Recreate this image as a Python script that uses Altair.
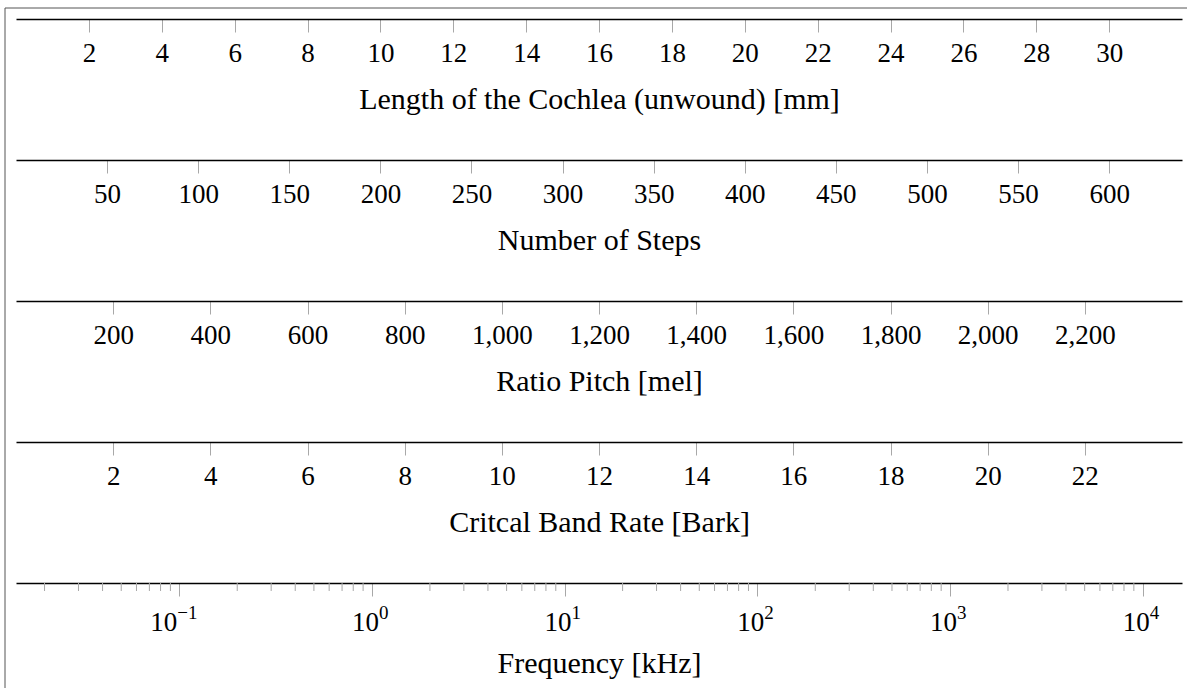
import altair as alt
import pandas as pd

# Tick values and ranges of the five auditory scales
cochlea_ticks = [2, 4, 6, 8, 10, 12, 14, 16, 18, 20, 22, 24, 26, 28, 30]
cochlea_range = [0, 32]

steps_ticks = [50, 100, 150, 200, 250, 300, 350, 400, 450, 500, 550, 600]
steps_range = [0, 640]

mel_ticks = [200, 400, 600, 800, 1000, 1200, 1400, 1600, 1800, 2000, 2200]
mel_range = [0, 2400]

bark_ticks = [2, 4, 6, 8, 10, 12, 14, 16, 18, 20, 22]
bark_range = [0, 24]

freq_ticks = [0.1, 1, 10, 100, 1000, 10000]
freq_exponents = ["\u22121", "0", "1", "2", "3", "4"]
freq_minor_ticks = [
    0.02, 0.03, 0.04, 0.05, 0.06, 0.07, 0.08, 0.09,
    0.2, 0.3, 0.4, 0.5, 0.6, 0.7, 0.8, 0.9,
    2, 3, 4, 5, 6, 7, 8, 9,
    20, 30, 40, 50, 60, 70, 80, 90,
    200, 300, 400, 500, 600, 700, 800, 900,
    2000, 3000, 4000, 5000, 6000, 7000, 8000, 9000,
]
freq_range = [0.01422, 16000]

W = 1166
H = 1
FONT = "Liberation Serif"
TICK_GREY = "#a8a8a8"
LABEL_SIZE = 27


def axis_for(values, title, fmt="d", labels=True, label_pad=29):
    return alt.Axis(
        values=values,
        title=title,
        format=fmt,
        grid=False,
        domainColor="#000000",
        domainWidth=1.6,
        tickColor=TICK_GREY,
        tickWidth=1,
        tickSize=13,
        labels=labels,
        labelFont=FONT,
        labelFontSize=LABEL_SIZE,
        labelColor="#000000",
        labelBaseline="alphabetic",
        labelPadding=label_pad,
        labelFlush=False,
        labelOverlap=False,
        titleFont=FONT,
        titleFontSize=30,
        titleFontWeight="normal",
        titleColor="#000000",
        titleBaseline="alphabetic",
        titleY=89,
    )


def scale_chart(values, rng, axis, scale_type="linear"):
    scale = alt.Scale(type=scale_type, domain=rng, nice=False, zero=False)
    base = alt.Chart(pd.DataFrame({"v": values})).mark_point(opacity=0, size=1).encode(
        x=alt.X("v:Q", scale=scale, axis=axis)
    )
    return base, scale


# Length of the cochlea, with the surrounding frame drawn as two rules
cochlea, _ = scale_chart(cochlea_ticks, cochlea_range,
                         axis_for(cochlea_ticks, "Length of the Cochlea (unwound) [mm]"))
one = pd.DataFrame({"k": [0]})
frame_top = alt.Chart(one).mark_rule(color="#555555", strokeWidth=1).encode(
    x=alt.value(-11), x2=alt.value(W + 5), y=alt.value(-10)
)
frame_left = alt.Chart(one).mark_rule(color="#555555", strokeWidth=1).encode(
    x=alt.value(-11), y=alt.value(-10), y2=alt.value(670)
)
panel1 = alt.layer(cochlea, frame_top, frame_left).properties(width=W, height=H)

steps, _ = scale_chart(steps_ticks, steps_range, axis_for(steps_ticks, "Number of Steps"))
panel2 = steps.properties(width=W, height=H)

mel, _ = scale_chart(mel_ticks, mel_range, axis_for(mel_ticks, "Ratio Pitch [mel]", fmt=",d"))
panel3 = mel.properties(width=W, height=H)

bark, _ = scale_chart(bark_ticks, bark_range, axis_for(bark_ticks, "Critcal Band Rate [Bark]"))
panel4 = bark.properties(width=W, height=H)

# Frequency on a log scale: decade labels written as 10 with a raised exponent,
# plus unlabelled minor ticks
freq_axis = axis_for(freq_ticks, "Frequency [kHz]", labels=False)
freq, freq_scale = scale_chart(freq_ticks, freq_range, freq_axis, scale_type="log")
freq_x = alt.X("v:Q", scale=freq_scale, axis=freq_axis)

minor = alt.Chart(pd.DataFrame({"v": freq_minor_ticks})).mark_rule(
    color=TICK_GREY, strokeWidth=1
).encode(x=freq_x, y=alt.value(H), y2=alt.value(H + 8))

decades = alt.Chart(pd.DataFrame({"v": freq_ticks, "exp": freq_exponents})).transform_calculate(
    base="'10'", neg="datum.v < 1"
)
LABEL_BASE = H + 48
label_layers = []
for is_neg, join in ((False, 7), (True, -2)):
    part = decades.transform_filter(f"datum.neg == {str(is_neg).lower()}")
    label_layers.append(
        part.mark_text(align="right", baseline="alphabetic", font=FONT,
                       fontSize=LABEL_SIZE, color="#000000", dx=join).encode(
            x=freq_x, y=alt.value(LABEL_BASE), text="base:N")
    )
    label_layers.append(
        part.mark_text(align="left", baseline="alphabetic", font=FONT,
                       fontSize=19, color="#000000", dx=join).encode(
            x=freq_x, y=alt.value(LABEL_BASE - 12), text="exp:N")
    )

panel5 = alt.layer(freq, minor, *label_layers).properties(width=W, height=H)

chart = alt.vconcat(
    panel1, panel2, panel3, panel4, panel5, spacing=140, bounds="flush"
).properties(
    padding={"left": 4, "top": 7, "right": 0, "bottom": 0},
    background="white",
).configure_view(stroke=None)

chart.save("out.html", embed_options={"renderer": "svg", "actions": False})
